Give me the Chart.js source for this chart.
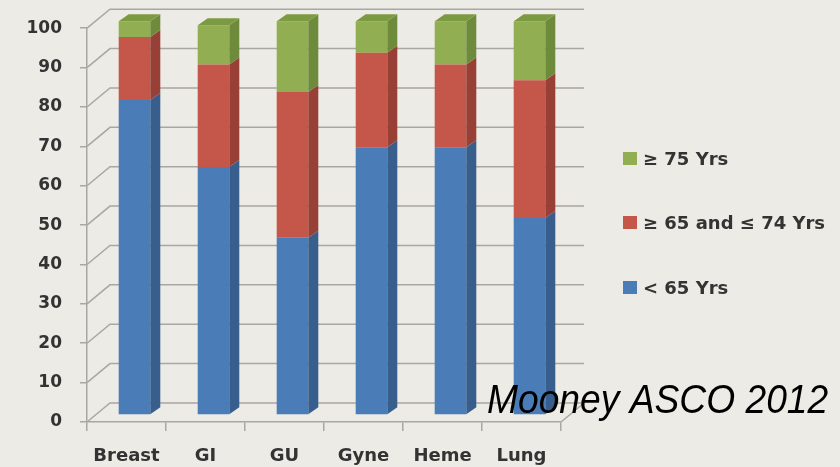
<!DOCTYPE html>
<html>
<head>
<meta charset="utf-8">
<script src="https://cdn.jsdelivr.net/npm/chart.js@4/dist/chart.umd.min.js"></script>
<style>
  html, body { margin: 0; padding: 0; background: #edebe6; }
  #wrap { position: relative; width: 840px; height: 467px; }
  #legend {
      position: absolute; left: 623px; top: 148px;
      margin: 0; padding: 0; list-style: none;
      font: bold 18px "DejaVu Sans"; color: #333333;
  }
  #legend li { display: flex; align-items: center; height: 20px; margin-bottom: 44.5px; white-space: nowrap; }
  #legend .swatch { display: inline-block; width: 14px; height: 13px; margin-right: 6px; }
</style>
</head>
<body>
<div id="wrap">
  <canvas id="ageChart"></canvas>
  <ul id="legend"></ul>
</div>
<script>
// age split by tumour type (% of patients)
const categories = ['Breast', 'GI', 'GU', 'Gyne', 'Heme', 'Lung'];
const under65 = [80, 63, 45, 68, 68, 50];
const from65to74 = [16, 26, 37, 24, 21, 35];
const over75 = [4, 10, 18, 8, 11, 15];
const seriesNames = ['< 65 Yrs', '\u2265 65 and \u2264 74 Yrs', '\u2265 75 Yrs'];

// front, side, top colours per series
const shades = [
    ['#4a7cb8', '#375e8d', '#41709f'],
    ['#c5574a', '#983f36', '#ab4a3e'],
    ['#91af52', '#6e8b3c', '#7c9a42']
];

const WALL = { x: 23, y: -19 };   // front axis -> back wall
const SHIFT = { x: 8, y: -7 };    // bar front faces sit behind the axis
const DEPTH = { x: 10, y: -7 };   // bar thickness
const lineGrey = '#a9a7a3';
const textGrey = '#333333';
const boldFont = size => ({ family: 'DejaVu Sans', weight: 'bold', size: size });

const box3d = {
    id: 'box3d',
    beforeDatasetsDraw(chart) {
        const { ctx, chartArea: a, scales: { y } } = chart;
        ctx.save();
        ctx.strokeStyle = lineGrey;
        ctx.lineWidth = 1.5;
        y.ticks.forEach(t => {
            const py = y.getPixelForValue(t.value);
            ctx.beginPath();
            ctx.moveTo(a.left, py);
            ctx.lineTo(a.left + WALL.x, py + WALL.y);
            ctx.lineTo(a.right + WALL.x, py + WALL.y);
            ctx.stroke();
        });
        ctx.beginPath();
        ctx.moveTo(a.right, a.bottom);
        ctx.lineTo(a.right + WALL.x, a.bottom + WALL.y);
        ctx.stroke();
        ctx.restore();
        // bars are drawn a bit into the box
        ctx.save();
        ctx.translate(SHIFT.x, SHIFT.y);
    },
    afterDatasetsDraw(chart) {
        const ctx = chart.ctx;
        const last = chart.data.datasets.length - 1;
        chart.data.datasets.forEach((ds, i) => {
            chart.getDatasetMeta(i).data.forEach(bar => {
                const { x, y, base, width } = bar.getProps(['x', 'y', 'base', 'width'], true);
                const l = x - width / 2, r = x + width / 2;
                const top = Math.min(y, base), bot = Math.max(y, base);
                ctx.fillStyle = shades[i][1];
                ctx.beginPath();
                ctx.moveTo(r, top);
                ctx.lineTo(r + DEPTH.x, top + DEPTH.y);
                ctx.lineTo(r + DEPTH.x, bot + DEPTH.y);
                ctx.lineTo(r, bot);
                ctx.closePath();
                ctx.fill();
                if (i === last) {
                    ctx.fillStyle = shades[i][2];
                    ctx.beginPath();
                    ctx.moveTo(l, top);
                    ctx.lineTo(l + DEPTH.x, top + DEPTH.y);
                    ctx.lineTo(r + DEPTH.x, top + DEPTH.y);
                    ctx.lineTo(r, top);
                    ctx.closePath();
                    ctx.fill();
                }
            });
        });
        ctx.restore();
    },
    afterDraw(chart) {
        const ctx = chart.ctx;
        ctx.save();
        ctx.translate(487, 413);
        ctx.scale(0.93, 1);
        ctx.font = 'italic 40px "Liberation Sans"';
        ctx.fillStyle = '#000000';
        ctx.textBaseline = 'alphabetic';
        ctx.fillText('Mooney ASCO 2012', 0, 0);
        ctx.restore();
    }
};

// legend as html list, top series first
const htmlLegend = {
    id: 'htmlLegend',
    afterUpdate(chart) {
        const list = document.getElementById('legend');
        list.innerHTML = '';
        const items = chart.options.plugins.legend.labels.generateLabels(chart).reverse();
        items.forEach(item => {
            const li = document.createElement('li');
            const box = document.createElement('span');
            box.className = 'swatch';
            box.style.background = item.fillStyle;
            const text = document.createElement('span');
            text.textContent = item.text;
            li.append(box, text);
            list.appendChild(li);
        });
    }
};

new Chart(document.getElementById('ageChart'), {
    type: 'bar',
    data: {
        labels: categories,
        datasets: [under65, from65to74, over75].map((values, i) => ({
            label: seriesNames[i],
            data: values,
            backgroundColor: shades[i][0],
            borderWidth: 0,
            categoryPercentage: 1,
            barPercentage: 0.4,
            clip: false
        }))
    },
    options: {
        responsive: true,
        maintainAspectRatio: false,
        animation: false,
        layout: { padding: { top: 28, bottom: 0, left: 0, right: 279 } },
        plugins: {
            tooltip: { enabled: false },
            legend: { display: false }
        },
        scales: {
            x: {
                stacked: true,
                afterFit: s => { s.height = 45; },
                grid: { drawOnChartArea: false, drawTicks: true, tickLength: 9, color: lineGrey, lineWidth: 1.5, offset: true },
                border: { display: true, color: lineGrey, width: 1.5 },
                ticks: { color: textGrey, padding: 15, maxRotation: 0, font: boldFont(18) }
            },
            y: {
                stacked: true,
                min: 0,
                max: 100,
                afterFit: s => { s.width = 87; },
                grid: { drawOnChartArea: false, drawTicks: true, tickLength: 7, color: lineGrey, lineWidth: 1.5 },
                border: { display: true, color: lineGrey, width: 1.5 },
                ticks: { stepSize: 10, color: textGrey, padding: 18, font: boldFont(17) }
            }
        }
    },
    plugins: [box3d, htmlLegend]
});
</script>
</body>
</html>
